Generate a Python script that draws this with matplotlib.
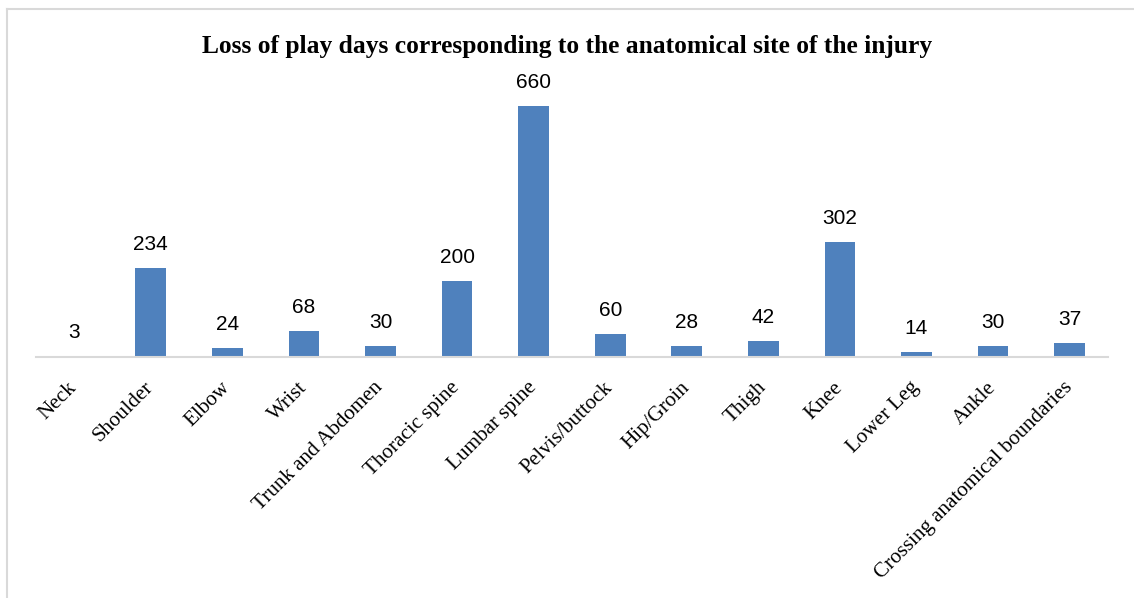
import numpy as np
import matplotlib.pyplot as plt
from matplotlib.lines import Line2D

# injury sites and lost play days
sites = ["Neck", "Shoulder", "Elbow", "Wrist", "Trunk and Abdomen",
         "Thoracic spine", "Lumbar spine", "Pelvis/buttock", "Hip/Groin",
         "Thigh", "Knee", "Lower Leg", "Ankle",
         "Crossing anatomical boundaries"]
days = [3, 234, 24, 68, 30, 200, 660, 60, 28, 42, 302, 14, 30, 37]

fig = plt.figure(figsize=(11.34, 5.98), dpi=100)
ax = fig.add_axes([0.0317, 0.403, 0.9453, 0.445])

x = np.arange(len(sites))
bars = ax.bar(x, days, width=0.4, color="#4f81bd")
ax.bar_label(bars, labels=[str(d) for d in days], padding=10,
             fontsize=15, family="Liberation Sans")

ax.set_xlim(-0.5, len(sites) - 0.5)
ax.set_ylim(0, 700)
ax.set_xticks(x)
ax.set_xticklabels(sites, rotation=45, ha="right", va="center",
                   rotation_mode="anchor", fontsize=15.2,
                   family="Liberation Serif")
ax.tick_params(axis="x", length=0, pad=20)
ax.set_yticks([])
for side in ["top", "right", "left"]:
    ax.spines[side].set_visible(False)
ax.spines["bottom"].set_color("#d9d9d9")
ax.spines["bottom"].set_linewidth(1.5)

fig.text(0.5, 0.922, "Loss of play days corresponding to the anatomical site of the injury",
         ha="center", va="center", fontsize=18.4, fontweight="bold",
         family="Liberation Serif")

# chart frame
fig.add_artist(Line2D([7 / 1134, 7 / 1134], [0, 1 - 9 / 598],
                      transform=fig.transFigure, color="#d9d9d9", lw=1.5))
fig.add_artist(Line2D([7 / 1134, 1], [1 - 9 / 598, 1 - 9 / 598],
                      transform=fig.transFigure, color="#d9d9d9", lw=1.5))

fig.savefig("out.png", dpi=100)
